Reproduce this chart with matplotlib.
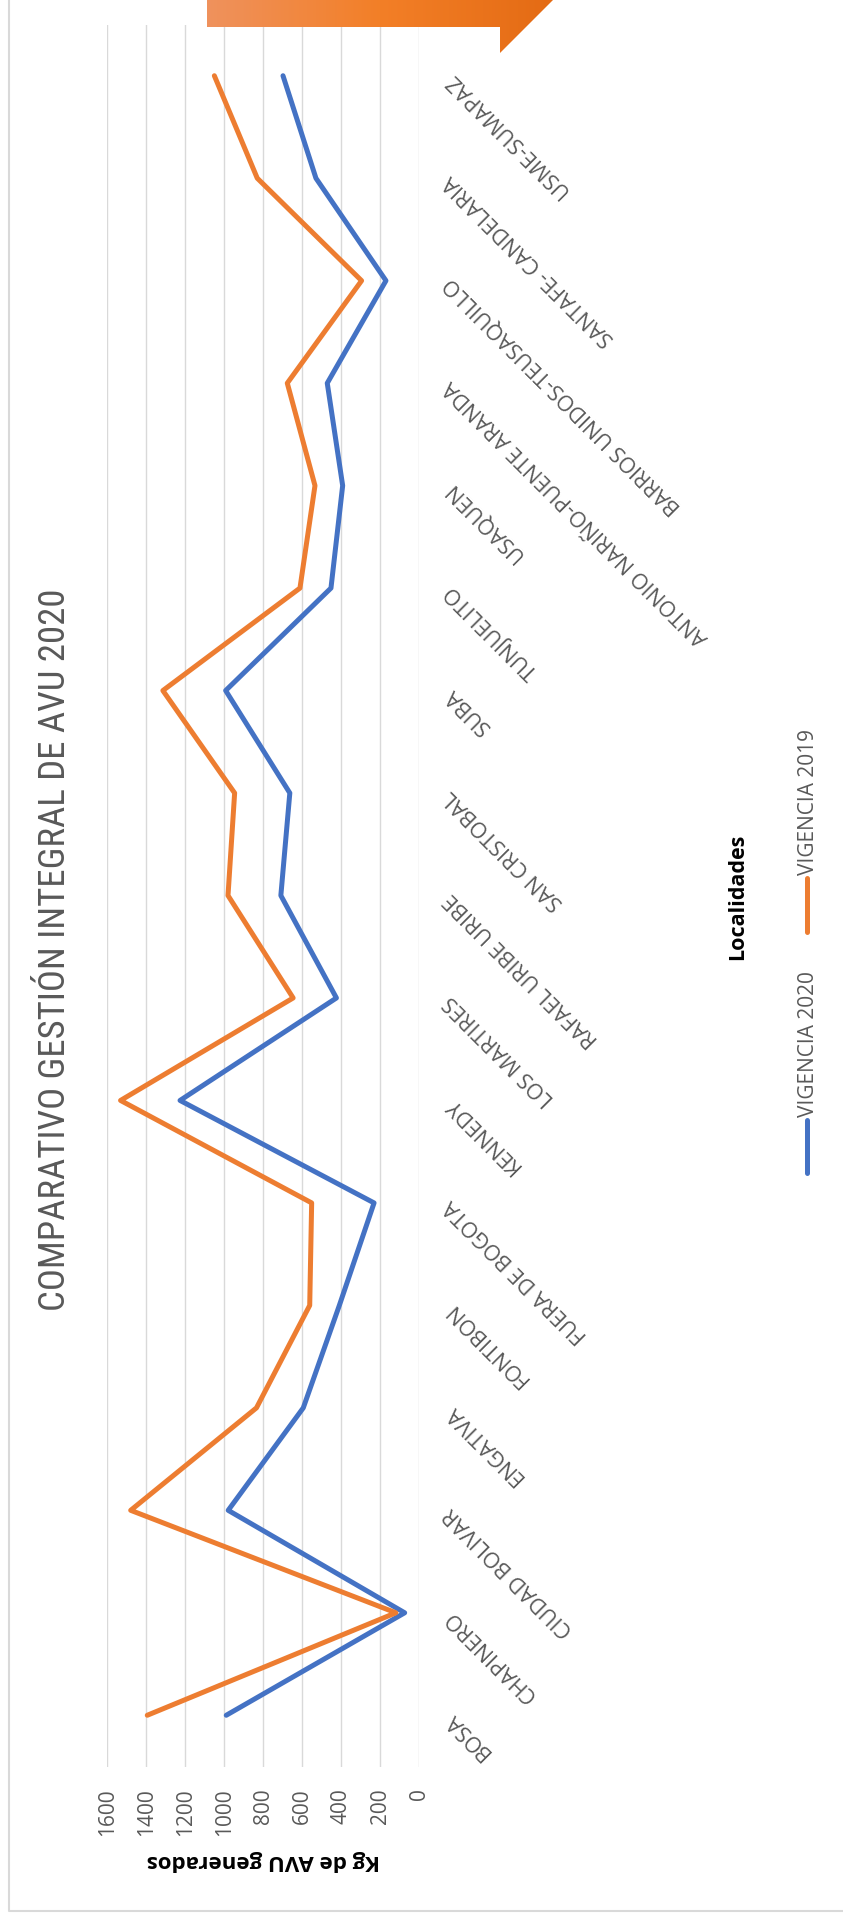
import numpy as np
import matplotlib
matplotlib.use("Agg")
import matplotlib.pyplot as plt
from matplotlib import font_manager
from matplotlib.lines import Line2D
from matplotlib.patches import Polygon
from matplotlib.colors import LinearSegmentedColormap

# Localidades (de abajo hacia arriba en la figura girada)
localidades = [
    "BOSA", "CHAPINERO", "CIUDAD BOLIVAR", "ENGATIVA", "FONTIBON",
    "FUERA DE BOGOTA", "KENNEDY", "LOS MARTIRES", "RAFAEL URIBE URIBE",
    "SAN CRISTOBAL", "SUBA", "TUNJUELITO", "USAQUEN",
    "ANTONIO NARIÑO-PUENTE ARANDA", "BARRIOS UNIDOS-TEUSAQUILLO",
    "SANTAFE- CANDELARIA", "USME-SUMAPAZ",
]
# Kg de AVU generados por vigencia
vigencia_2020 = [990, 75, 980, 595, 410, 232, 1227, 425, 710, 664, 993,
                 453, 393, 472, 171, 530, 699]
vigencia_2019 = [1395, 120, 1480, 835, 562, 552, 1532, 647, 981, 947, 1315,
                 612, 535, 677, 296, 831, 1051]
ticks_kg = [0, 200, 400, 600, 800, 1000, 1200, 1400, 1600]

AZUL = "#4472C4"
NARANJA = "#ED7D31"
GRIS = "#595959"

plt.rcParams["font.family"] = ["Open Sans", "DejaVu Sans"]

disponibles = {f.name for f in font_manager.fontManager.ttflist}
fuente_titulo = next((n for n in ["Liberation Sans Narrow", "Roboto Condensed",
                                  "Open Sans Condensed"] if n in disponibles),
                     "Open Sans")
talla_titulo = 26.5 if fuente_titulo != "Open Sans" else 22

W, H = 843, 1921
fig = plt.figure(figsize=(W / 100, H / 100), dpi=100)


def fx(px):
    return px / W


def fy(py):
    return 1 - py / H


# marco exterior
fondo = fig.add_axes([0, 0, 1, 1], zorder=-1)
fondo.set_xlim(0, W)
fondo.set_ylim(H, 0)
fondo.axis("off")
fondo.plot([9, 9, W], [0, 1911, 1911], color="#D9D9D9", lw=1.5)

# área del gráfico (valores en horizontal, invertidos; localidades en vertical)
x0, x1, ytop, ybot = 107.3, 419.3, 24.5, 1766.5
ax = fig.add_axes([fx(x0), fy(ybot), (x1 - x0) / W, (ybot - ytop) / H])
pos = np.arange(len(localidades))
ax.plot(vigencia_2020, pos, color=AZUL, lw=3.6,
        solid_joinstyle="round", solid_capstyle="round", zorder=3)
ax.plot(vigencia_2019, pos, color=NARANJA, lw=3.6,
        solid_joinstyle="round", solid_capstyle="round", zorder=4)
ax.set_xlim(1600, 0)
ax.set_ylim(-0.5, len(localidades) - 0.5)
for s in ax.spines.values():
    s.set_visible(False)
ax.set_xticks(ticks_kg)
ax.set_xticklabels([str(t) for t in ticks_kg])
ax.grid(axis="x", color="#D9D9D9", lw=1.0)
ax.set_axisbelow(True)
ax.tick_params(axis="x", length=0, pad=15.5, labelrotation=90,
               labelsize=15, labelcolor=GRIS)

ax.yaxis.tick_right()
ax.set_yticks(pos)
ax.set_yticklabels(localidades, rotation=135, rotation_mode="anchor",
                   ha="right", va="center")
ax.tick_params(axis="y", length=0, pad=20.5, labelsize=15.5,
               labelcolor=GRIS, right=False)

# títulos
fig.text(fx(55), fy(950), "COMPARATIVO GESTIÓN INTEGRAL DE AVU 2020",
         rotation=90, ha="center", va="center", color=GRIS,
         fontsize=talla_titulo, family=[fuente_titulo, "DejaVu Sans"])
fig.text(fx(263), fy(1860), "Kg de AVU generados", rotation=180,
         ha="center", va="center", fontsize=16, fontweight="bold",
         color="black")
fig.text(fx(738), fy(897), "Localidades", rotation=90,
         ha="center", va="center", fontsize=15.5, fontweight="bold",
         color="black")

# leyenda
for color, etiqueta, y_a, y_b in [(AZUL, "VIGENCIA 2020", 1120, 1173),
                                  (NARANJA, "VIGENCIA 2019", 878, 932)]:
    fig.add_artist(Line2D([fx(807), fx(807)], [fy(y_a), fy(y_b)],
                          transform=fig.transFigure, color=color, lw=3.6,
                          solid_capstyle="round"))
    fig.text(fx(808), fy(y_a - 3), etiqueta, rotation=90, ha="center",
             va="bottom", fontsize=15, color=GRIS)

# flecha decorativa en degradado
deco = fig.add_axes([0, 0, 1, 1], zorder=5)
deco.set_xlim(0, W)
deco.set_ylim(H, 0)
deco.axis("off")
deco.patch.set_alpha(0)
cmap = LinearSegmentedColormap.from_list("naranja", ["#EF925D", "#F37F27", "#E46B14"])
flecha = Polygon([(207, 0), (553, 0), (500, 53), (500, 27), (207, 27)],
                 closed=True, facecolor="none", edgecolor="none",
                 transform=deco.transData)
deco.add_patch(flecha)
grad = np.linspace(0, 1, 256).reshape(1, -1)
im = deco.imshow(grad, cmap=cmap, extent=[207, 553, 53, 0], aspect="auto")
im.set_clip_path(flecha)

fig.savefig("out.png", dpi=100)
